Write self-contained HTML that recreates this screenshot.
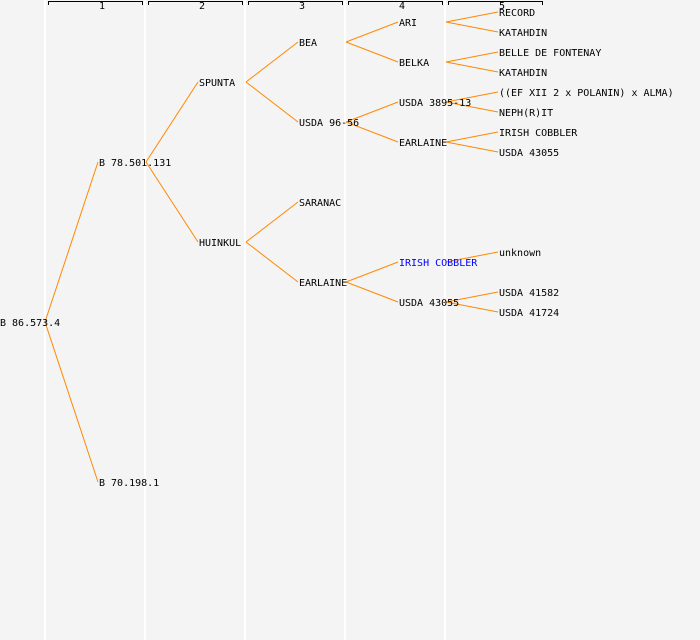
<!DOCTYPE html><html><head><style>body{margin:0;background:#f4f4f4}svg{display:block}text{font-family:"DejaVu Sans Mono","Liberation Mono",monospace;font-size:10px;fill:#000}</style></head><body>
<svg width="700" height="640" xmlns="http://www.w3.org/2000/svg">
<rect width="700" height="640" fill="#f4f4f4"/>
<g stroke="#fff" stroke-width="2">
<line x1="45" y1="0" x2="45" y2="640"/><line x1="145" y1="0" x2="145" y2="640"/><line x1="245" y1="0" x2="245" y2="640"/><line x1="345" y1="0" x2="345" y2="640"/><line x1="445" y1="0" x2="445" y2="640"/>
</g>
<g stroke="#000" fill="none" stroke-width="1">
<path d="M48.5,5V1.5H142.5V5"/><path d="M148.5,5V1.5H242.5V5"/><path d="M248.5,5V1.5H342.5V5"/><path d="M348.5,5V1.5H442.5V5"/><path d="M448.5,5V1.5H542.5V5"/>
</g>
<g style="font-size:8px"><text x="99" y="9">1</text><text x="199" y="9">2</text><text x="299" y="9">3</text><text x="399" y="9">4</text><text x="499" y="9">5</text></g>
<g stroke="#ff8800" stroke-width="1" fill="none">
<path d="M45,322L98,162M45,322L98,482"/>
<path d="M146,162L198,82M146,162L198,242"/>
<path d="M246,82L298,42M246,82L298,122M246,242L298,202M246,242L298,282"/>
<path d="M346,42L398,22M346,42L398,62M346,122L398,102M346,122L398,142M346,282L398,262M346,282L398,302"/>
<path d="M446,22L498,12M446,22L498,32M446,62L498,52M446,62L498,72M446,102L498,92M446,102L498,112M446,142L498,132M446,142L498,152M446,262L498,252M446,302L498,292M446,302L498,312"/>
</g>
<g>
<text x="0" y="326">B 86.573.4</text>
<text x="99" y="166">B 78.501.131</text>
<text x="99" y="486">B 70.198.1</text>
<text x="199" y="86">SPUNTA</text>
<text x="199" y="246">HUINKUL</text>
<text x="299" y="46">BEA</text>
<text x="299" y="126">USDA 96-56</text>
<text x="299" y="206">SARANAC</text>
<text x="299" y="286">EARLAINE</text>
<text x="399" y="26">ARI</text>
<text x="399" y="66">BELKA</text>
<text x="399" y="106">USDA 3895-13</text>
<text x="399" y="146">EARLAINE</text>
<text x="399" y="266" style="fill:#0000ff">IRISH COBBLER</text>
<text x="399" y="306">USDA 43055</text>
<text x="499" y="16">RECORD</text>
<text x="499" y="36">KATAHDIN</text>
<text x="499" y="56">BELLE DE FONTENAY</text>
<text x="499" y="76">KATAHDIN</text>
<text x="499" y="96">((EF XII 2 x POLANIN) x ALMA)</text>
<text x="499" y="116">NEPH(R)IT</text>
<text x="499" y="136">IRISH COBBLER</text>
<text x="499" y="156">USDA 43055</text>
<text x="499" y="256">unknown</text>
<text x="499" y="296">USDA 41582</text>
<text x="499" y="316">USDA 41724</text>
</g>
</svg></body></html>
